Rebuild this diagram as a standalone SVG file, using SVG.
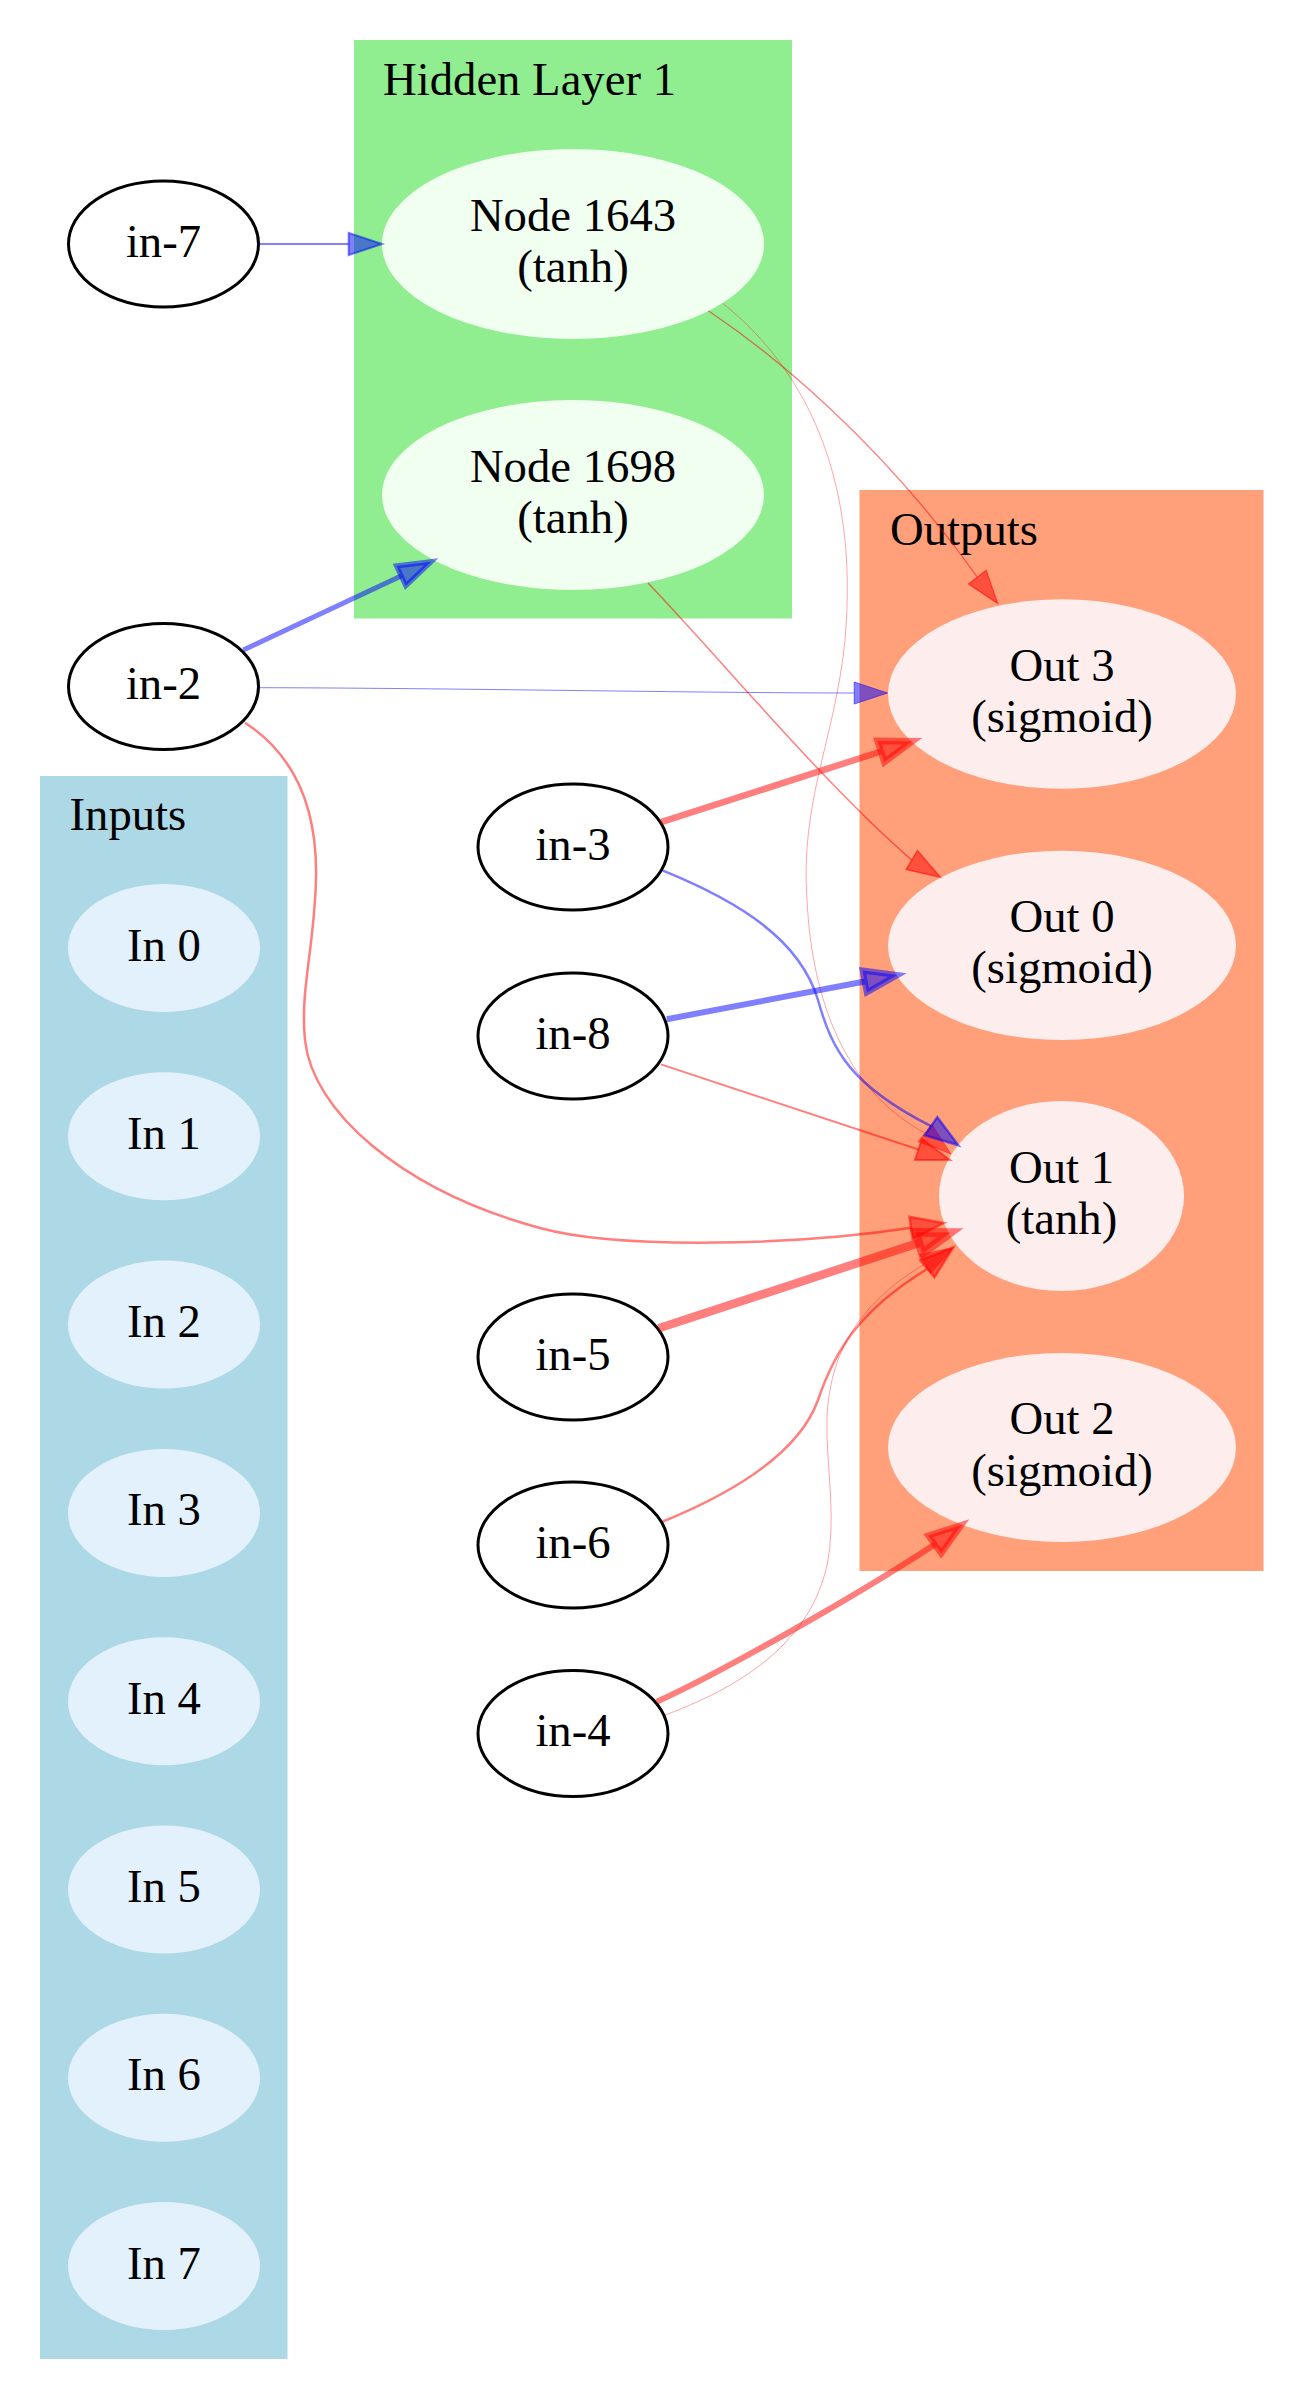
<svg xmlns="http://www.w3.org/2000/svg" width="1304" height="2400" viewBox="0 0 1304 2400">
  <style>
    text { font-family: "Liberation Serif", "Times New Roman", serif; font-size: 46.7px; fill: #000000; }
    .lbl { text-anchor: middle; }
    .clabel { text-anchor: start; }
    .inp { fill: #ffffff; stroke: #000000; stroke-width: 3; }
    .innode { fill: #e3f1fc; stroke: none; }
    .hid { fill: #f0fff0; stroke: none; }
    .out { fill: #fdeeed; stroke: none; }
    .e { fill: none; stroke-opacity: 0.5; stroke-linecap: butt; }
    .a { fill-opacity: 0.5; stroke-opacity: 0.5; stroke-linejoin: miter; }
    .blue { stroke: #0000ff; }
    .red { stroke: #ff0000; }
    .a.blue { fill: #0000ff; }
    .a.red { fill: #ff0000; }
  </style>

  <rect width="1304" height="2400" fill="#ffffff"/>

  <!-- clusters -->
  <g id="cluster_hidden">
    <rect x="354" y="40" width="438" height="578.5" fill="#90ee90"/>
    <text class="clabel" x="383" y="95">Hidden Layer 1</text>
  </g>
  <g id="cluster_inputs">
    <rect x="40" y="776" width="247.5" height="1583" fill="#add8e6"/>
    <text class="clabel" x="69.5" y="830">Inputs</text>
  </g>
  <g id="cluster_outputs">
    <rect x="859.5" y="490" width="404" height="1081" fill="#ffa07a"/>
    <text class="clabel" x="890" y="545">Outputs</text>
  </g>

  <!-- input nodes inside the Inputs cluster -->
  <g id="In0"><ellipse class="innode" cx="164" cy="948" rx="96" ry="64"/><text class="lbl" x="164" y="960.5">In 0</text></g>
  <g id="In1"><ellipse class="innode" cx="164" cy="1136.3" rx="96" ry="64"/><text class="lbl" x="164" y="1148.8">In 1</text></g>
  <g id="In2"><ellipse class="innode" cx="164" cy="1324.6" rx="96" ry="64"/><text class="lbl" x="164" y="1337.1">In 2</text></g>
  <g id="In3"><ellipse class="innode" cx="164" cy="1512.9" rx="96" ry="64"/><text class="lbl" x="164" y="1525.4">In 3</text></g>
  <g id="In4"><ellipse class="innode" cx="164" cy="1701.2" rx="96" ry="64"/><text class="lbl" x="164" y="1713.7">In 4</text></g>
  <g id="In5"><ellipse class="innode" cx="164" cy="1889.5" rx="96" ry="64"/><text class="lbl" x="164" y="1902">In 5</text></g>
  <g id="In6"><ellipse class="innode" cx="164" cy="2077.8" rx="96" ry="64"/><text class="lbl" x="164" y="2090.3">In 6</text></g>
  <g id="In7"><ellipse class="innode" cx="164" cy="2266.1" rx="96" ry="64"/><text class="lbl" x="164" y="2278.6">In 7</text></g>

  <!-- hidden nodes -->
  <g id="node1643"><ellipse class="hid" cx="573" cy="244" rx="191" ry="95"/><text class="lbl" x="573" y="230.5">Node 1643</text><text class="lbl" x="573" y="282">(tanh)</text></g>
  <g id="node1698"><ellipse class="hid" cx="573" cy="495" rx="191" ry="95"/><text class="lbl" x="573" y="481.5">Node 1698</text><text class="lbl" x="573" y="533">(tanh)</text></g>

  <!-- output nodes -->
  <g id="out3"><ellipse class="out" cx="1062" cy="694" rx="174" ry="94.7"/><text class="lbl" x="1062" y="680.5">Out 3</text><text class="lbl" x="1062" y="732">(sigmoid)</text></g>
  <g id="out0"><ellipse class="out" cx="1062" cy="945.4" rx="174" ry="94.7"/><text class="lbl" x="1062" y="931.9">Out 0</text><text class="lbl" x="1062" y="983.4">(sigmoid)</text></g>
  <g id="out1"><ellipse class="out" cx="1061.5" cy="1196" rx="122.5" ry="95"/><text class="lbl" x="1061.5" y="1182.5">Out 1</text><text class="lbl" x="1061.5" y="1234">(tanh)</text></g>
  <g id="out2"><ellipse class="out" cx="1062" cy="1447.5" rx="174" ry="94.5"/><text class="lbl" x="1062" y="1434">Out 2</text><text class="lbl" x="1062" y="1485.5">(sigmoid)</text></g>

  <!-- free input nodes -->
  <g id="in7"><ellipse class="inp" cx="163.5" cy="244" rx="95" ry="63"/><text class="lbl" x="163.5" y="256.5">in-7</text></g>
  <g id="in2"><ellipse class="inp" cx="163.5" cy="686.5" rx="95" ry="63"/><text class="lbl" x="163.5" y="699">in-2</text></g>
  <g id="in3"><ellipse class="inp" cx="573" cy="847" rx="95" ry="63"/><text class="lbl" x="573" y="859.5">in-3</text></g>
  <g id="in8"><ellipse class="inp" cx="573" cy="1036" rx="95" ry="63"/><text class="lbl" x="573" y="1048.5">in-8</text></g>
  <g id="in5"><ellipse class="inp" cx="573" cy="1357" rx="95" ry="63"/><text class="lbl" x="573" y="1369.5">in-5</text></g>
  <g id="in6"><ellipse class="inp" cx="573" cy="1545" rx="95" ry="63"/><text class="lbl" x="573" y="1557.5">in-6</text></g>
  <g id="in4"><ellipse class="inp" cx="573" cy="1733.5" rx="95" ry="63"/><text class="lbl" x="573" y="1746">in-4</text></g>

  <!-- connectors -->
  <g id="edges">
    <!-- in-7 -> Node 1643 -->
    <path class="e blue" stroke-width="2" d="M258.5,244 L348.7,244"/>
    <polygon class="a blue" stroke-width="2" points="382,244 348.7,232.9 348.7,255.1"/>

    <!-- in-2 -> Node 1698 -->
    <path class="e blue" stroke-width="5" d="M243.3,650 L401.1,575.9"/>
    <polygon class="a blue" stroke-width="5" points="431.2,561.7 405.8,585.9 396.4,565.9"/>

    <!-- in-2 -> Out 3 -->
    <path class="e blue" stroke-width="1" d="M258.5,687.7 C450,688 700,693 854.2,693"/>
    <polygon class="a blue" stroke-width="1" points="887.5,693 854.2,681.9 854.2,704.1"/>

    <!-- in-2 -> Out 1 -->
    <path class="e red" stroke-width="2.5" d="M245,722.7 C290,752 318,800 316,880 C314,950 300,990 305,1040 C312,1110 400,1190 540,1228 C620,1250 800,1245 911,1227.8"/>
    <polygon class="a red" stroke-width="2.5" points="944,1223 912.6,1238.8 909.4,1216.8"/>

    <!-- Node 1643 -> Out 3 -->
    <path class="e red" stroke-width="1.3" d="M708.3,310.7 C770,352 880,440 977.3,577.1"/>
    <polygon class="a red" stroke-width="1.3" points="997.7,603.4 968.5,583.9 986.1,570.3"/>

    <!-- Node 1643 -> Out 1 -->
    <path class="e red" stroke-width="0.7" d="M722.7,303.3 C800,365 860,470 845,640 C835,740 800,800 807,900 C812,1000 845,1090 925,1133"/>
    <polygon class="a red" stroke-width="0.7" points="951,1154 918,1141.7 932,1124.3"/>

    <!-- Node 1698 -> Out 0 -->
    <path class="e red" stroke-width="1.5" d="M648,583 C720,658 820,780 911.8,860.1"/>
    <polygon class="a red" stroke-width="1.5" points="940.3,877.2 906.1,869.6 917.5,850.6"/>

    <!-- in-3 -> Out 3 -->
    <path class="e red" stroke-width="6.5" d="M661,822.2 L880.9,751.5"/>
    <polygon class="a red" stroke-width="6.5" points="912.6,741.2 884.3,762.1 877.5,740.9"/>

    <!-- in-3 -> Out 1 -->
    <path class="e blue" stroke-width="2.5" d="M663,870.7 C740,902 800,940 818,1000 C832,1050 850,1085 931,1126.2"/>
    <polygon class="a blue" stroke-width="2.5" points="958.3,1145.2 924.7,1135.3 937.3,1117.1"/>

    <!-- in-8 -> Out 0 -->
    <path class="e blue" stroke-width="6" d="M666.8,1019.2 L864.7,981.5"/>
    <polygon class="a blue" stroke-width="6" points="897.4,975.1 866.8,992.4 862.6,970.6"/>

    <!-- in-8 -> Out 1 -->
    <path class="e red" stroke-width="2" d="M661,1064.4 L918.4,1149.5"/>
    <polygon class="a red" stroke-width="2" points="950,1160 914.9,1160 921.9,1139"/>

    <!-- in-5 -> Out 1 -->
    <path class="e red" stroke-width="8.5" d="M658.7,1328.3 L919,1242.9"/>
    <polygon class="a red" stroke-width="8.5" points="950.6,1232.5 922.4,1253.4 915.5,1232.3"/>

    <!-- in-6 -> Out 1 -->
    <path class="e red" stroke-width="2.5" d="M663,1521.5 C740,1490 800,1450 818,1400 C835,1350 860,1310 927.4,1268.8"/>
    <polygon class="a red" stroke-width="2.5" points="953,1247.5 934.5,1277.4 920.3,1260.3"/>

    <!-- in-4 -> Out 2 -->
    <path class="e red" stroke-width="6" d="M656.7,1701.7 C710,1678 850,1600 934.7,1544.5"/>
    <polygon class="a red" stroke-width="6" points="961.6,1524.9 941.2,1553.5 928.2,1535.5"/>

    <!-- in-4 -> Out 1 -->
    <path class="e red" stroke-width="0.7" d="M665,1715 C760,1680 815,1630 828,1560 C838,1500 820,1440 830,1390 C840,1330 880,1290 925,1264"/>
    <polygon class="a red" stroke-width="0.7" points="953.8,1247.4 930.5,1273.6 919.5,1254.4"/>
  </g>
</svg>
